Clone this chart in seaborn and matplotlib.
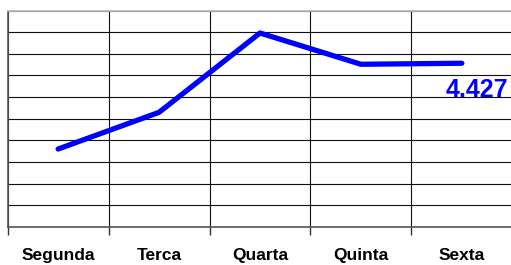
import numpy as np
import pandas as pd
import matplotlib.pyplot as plt
import seaborn as sns

# --- Data ---
days = ["Segunda", "Terca", "Quarta", "Quinta", "Sexta"]
values = [2.104, 3.098, 5.246, 4.399, 4.427]
last_label = "4.427"

Y_MAX = 5.85
N_ROWS = 10

sns.set_theme(style="white")
plt.rcParams.update({
    'font.family': ['Liberation Sans', 'DejaVu Sans'],
    'figure.dpi': 100,
})

df = pd.DataFrame({"day": days, "value": values})

fig = plt.figure(figsize=(5.11, 2.65), dpi=100)
ax = fig.add_axes([7.7 / 511, 38.3 / 265, 504.6 / 511, 216 / 265])

sns.lineplot(data=df, x="day", y="value", sort=False, color="#0000ff",
             lw=3.8, solid_capstyle="round", ax=ax)

ax.set_xlim(-0.5, len(days) - 0.5)
ax.set_ylim(0, Y_MAX)

# horizontal grid rows
ax.set_yticks(np.linspace(0, Y_MAX, N_ROWS + 1))
ax.set_yticklabels([])
ax.tick_params(axis="y", length=0)
ax.grid(axis="y", color="#111111", lw=0.8)

# vertical grid at category boundaries
bounds = np.arange(-0.5, len(days), 1.0)
ax.set_xticks(bounds, minor=True)
ax.set_xticks(range(len(days)))
ax.set_xticklabels(days, fontsize=12.5, fontweight="bold", color="black")
ax.tick_params(axis="x", which="major", length=0, pad=15)
ax.tick_params(axis="x", which="minor", length=6, width=1, color="#333333", bottom=True)
ax.grid(axis="x", which="minor", color="#111111", lw=0.8)
ax.set_axisbelow(True)

ax.set_xlabel("")
ax.set_ylabel("")

for side in ["left", "bottom"]:
    ax.spines[side].set_color("#555555")
    ax.spines[side].set_linewidth(1.2)
ax.spines["top"].set_color("#bbbbbb")
ax.spines["right"].set_visible(False)

ax.annotate(last_label, xy=(len(days) - 1, values[-1]), xytext=(15, -33.7),
            textcoords="offset pixels", ha="center", va="baseline",
            fontsize=18, fontweight="bold", color="#0000ff")

fig.savefig("out.png", dpi=100)
